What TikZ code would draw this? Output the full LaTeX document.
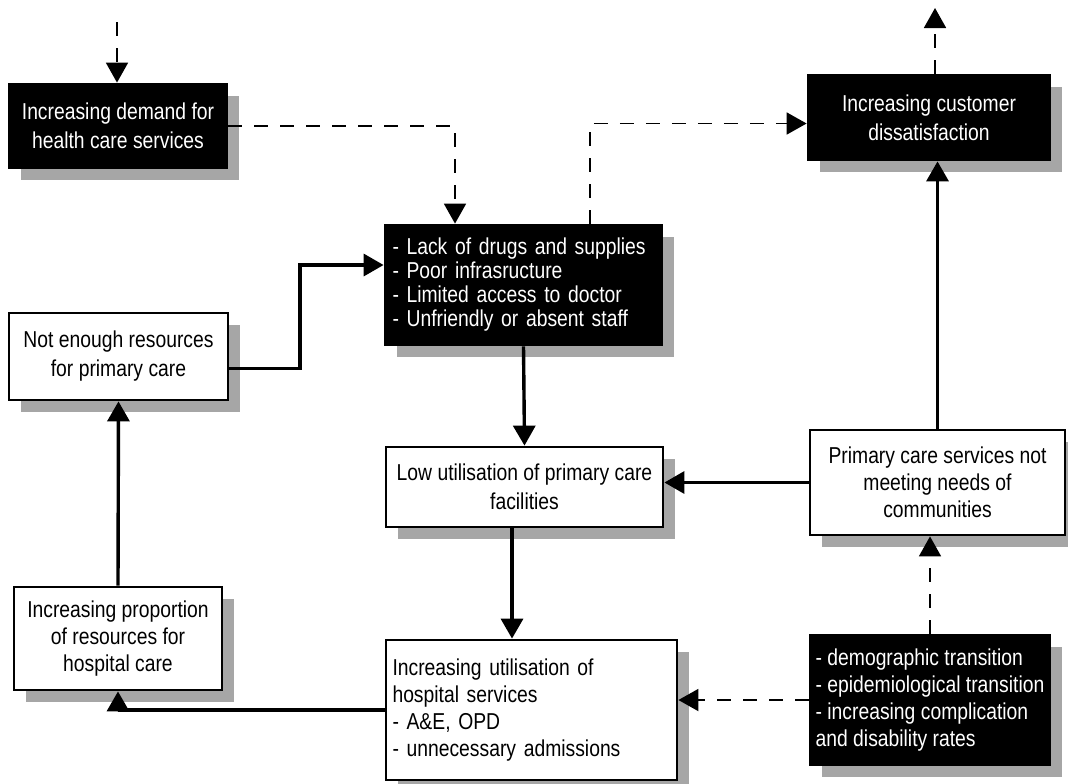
\documentclass[tikz,border=0pt]{standalone}
\usepackage{fontspec}
\setmainfont{Liberation Sans}[FakeStretch=0.84]
\usetikzlibrary{arrows.meta,shadows,calc}
\begin{document}
\begin{tikzpicture}[x=0.5pt,y=-0.5pt,
  base/.style={draw=black,line width=1.4pt,inner sep=3pt,
    font=\fontsize{11.5}{14.5}\selectfont,
    drop shadow={shadow xshift=6pt,shadow yshift=-6pt,fill=black!35,opacity=1}},
  blackbox/.style={base,fill=black,text=white},
  whitebox/.style={base,fill=white,text=black},
  solidarrow/.style={line width=1.7pt,-{Triangle[length=10pt,width=11pt]}},
  dasharrow/.style={line width=0.9pt,dash pattern=on 7pt off 6pt,-{Triangle[length=10pt,width=11pt]}}]
\useasboundingbox (0,0) rectangle (1068,783);

\node[blackbox,minimum width=109pt,minimum height=42pt,align=center] (A) at (118,126)
  {Increasing demand for\\health care services};
\node[blackbox,minimum width=121pt,minimum height=42.5pt,align=center] (B) at (929,117.5)
  {Increasing customer\\dissatisfaction};
\node[blackbox,minimum width=138.5pt,minimum height=60pt,align=left,text width=131pt,
  font=\fontsize{11.5}{12}\selectfont] (C) at (523.5,285)
  {- Lack of drugs and supplies\\- Poor infrasructure\\- Limited access to doctor\\- Unfriendly or absent staff};
\node[whitebox,minimum width=109.5pt,minimum height=43.5pt,align=center] (D) at (118.5,356.5)
  {Not enough resources\\for primary care};
\node[whitebox,minimum width=138.5pt,minimum height=40pt,align=center] (E) at (524.5,487)
  {Low utilisation of primary care\\facilities};
\node[whitebox,minimum width=127.5pt,minimum height=52.5pt,align=center,
  font=\fontsize{11.5}{13.5}\selectfont] (F) at (937.5,482.5)
  {Primary care services not\\meeting needs of\\communities};
\node[whitebox,minimum width=104pt,minimum height=51.5pt,align=center,
  font=\fontsize{11.5}{13.5}\selectfont] (G) at (118,638.5)
  {Increasing proportion\\of resources for\\hospital care};
\node[whitebox,minimum width=145.5pt,minimum height=70pt,align=left,text width=139pt,
  font=\fontsize{11.5}{13.5}\selectfont] (H) at (531.5,710)
  {Increasing utilisation of\\hospital services\\- A\&E, OPD\\- unnecessary admissions};
\node[blackbox,minimum width=120pt,minimum height=65pt,align=left,inner xsep=2pt,
  font=\fontsize{11.5}{13.5}\selectfont] (I) at (930,700)
  {- demographic transition\\- epidemiological transition\\- increasing complication\\and disability rates};

\coordinate (a0) at (117,22);
\coordinate (b0) at (935,8);
\coordinate (c1) at (455,0);
\coordinate (c2) at (590,0);
\coordinate (c3) at (300,265);
\coordinate (e1) at (512,0);

\draw[dasharrow] (a0) -- (a0 |- A.north);
\draw[dasharrow] (b0 |- B.north) -- (b0);
\draw[dasharrow] (A.east) -| (c1 |- C.north);
\draw[dasharrow] (c2 |- C.north) |- ([yshift=-3pt]B.west);
\draw[solidarrow] ([yshift=-6pt]D.east) -| (c3) -- (c3 -| C.west);
\draw[solidarrow] (C.south) -- (E.north);
\draw[solidarrow] (F.west) -- (F.west -| E.east);
\draw[solidarrow] (F.north) -- (F.north |- B.south);
\draw[solidarrow] (G.north) -- (D.south);
\draw[solidarrow] (e1 |- E.south) -- (e1 |- H.north);
\draw[solidarrow] (H.west) -| (G.south);
\draw[dasharrow] (I.north) -- (I.north |- F.south);
\draw[dasharrow] (I.west) -- (I.west -| H.east);
\end{tikzpicture}
\end{document}
